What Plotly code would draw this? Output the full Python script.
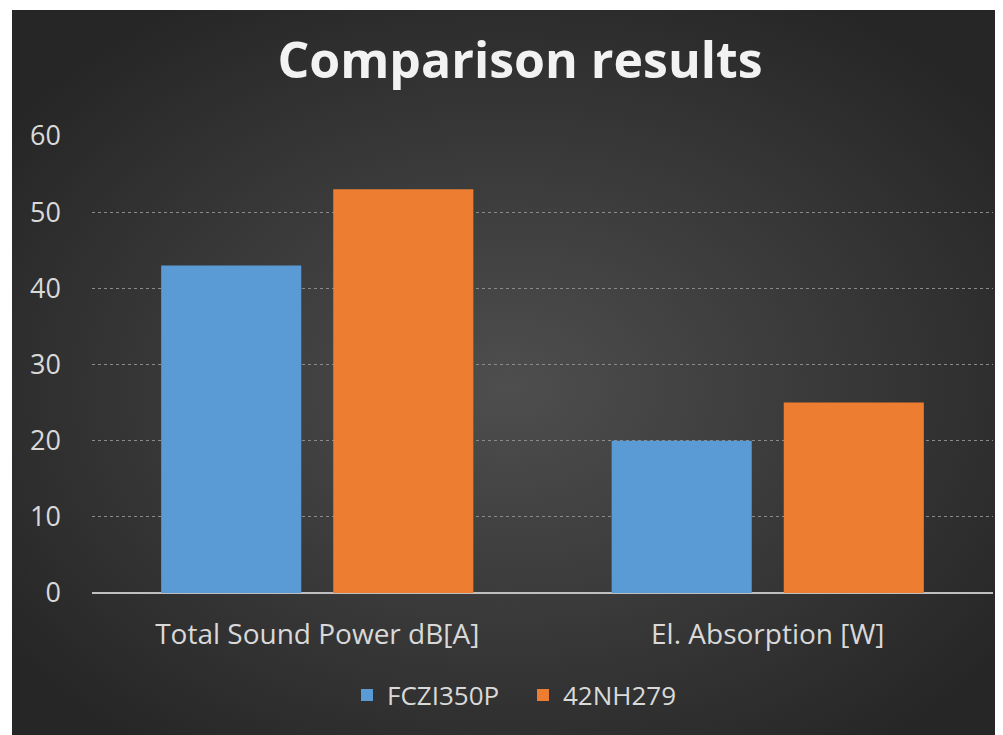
import base64
import plotly.graph_objects as go

categories = ["Total Sound Power dB[A]", "El. Absorption [W]"]
series_names = ["FCZI350P", "42NH279"]
fczi350p = [43, 20]
nh279 = [53, 25]
y_ticks = [0, 10, 20, 30, 40, 50, 60]

# page body has an 8px margin; figure coordinates = screen coordinates - 8
OFF = 8
W, H = 1003 - OFF, 735 - OFF
L, R, T, B = 92 - OFF, 10, 136 - OFF, 142
pw, ph = W - L - R, H - T - B

svg = '''<svg xmlns="http://www.w3.org/2000/svg" width="991" height="725" viewBox="0 0 991 725">
<defs><radialGradient id="g" cx="50%" cy="52%" r="62%">
<stop offset="0%" stop-color="#4e4e4e"/><stop offset="100%" stop-color="#262626"/></radialGradient></defs>
<rect width="991" height="725" fill="url(#g)"/></svg>'''
src = "data:image/svg+xml;base64," + base64.b64encode(svg.encode()).decode()

def px_to_paper_x(px):
    return (px - OFF - L) / pw

def py_to_paper_y(py):
    return (H - B - (py - OFF)) / ph

fig = go.Figure()
fig.add_trace(go.Bar(x=categories, y=fczi350p, name=series_names[0],
                     marker=dict(color="#5a9bd5", line=dict(width=0))))
fig.add_trace(go.Bar(x=categories, y=nh279, name=series_names[1],
                     marker=dict(color="#ed7d31", line=dict(width=0))))

fig.update_layout(
    width=W, height=H,
    margin=dict(l=L, r=R, t=T, b=B, autoexpand=False),
    paper_bgcolor="white",
    plot_bgcolor="rgba(0,0,0,0)",
    barmode="group", bargap=0.236, bargroupgap=0.186,
    font=dict(family="Open Sans", color="#d9d9d9"),
    title=dict(text="<b>Comparison results</b>", x=(520 - OFF) / W, xanchor="center",
               y=1 - (60 - OFF) / H, yanchor="middle",
               font=dict(family="Open Sans", size=50, color="#f2f2f2")),
    showlegend=True,
    legend=dict(orientation="h", x=px_to_paper_x(523), xanchor="center",
                y=py_to_paper_y(695), yanchor="middle",
                font=dict(size=26, color="#d9d9d9"), bgcolor="rgba(0,0,0,0)",
                entrywidth=131, entrywidthmode="pixels",
                traceorder="normal"),
    images=[dict(source=src, xref="paper", yref="paper",
                 x=px_to_paper_x(12), y=py_to_paper_y(10),
                 sizex=px_to_paper_x(1003) - px_to_paper_x(12),
                 sizey=py_to_paper_y(10) - py_to_paper_y(735),
                 sizing="stretch", layer="below", xanchor="left", yanchor="top")],
)
fig.update_yaxes(range=[0, 60], tickvals=y_ticks, showgrid=True,
                 gridcolor="#8a8a8a", griddash="dot", gridwidth=1,
                 zeroline=True, zerolinecolor="#bfbfbf", zerolinewidth=2,
                 showline=False, ticks="", ticklabelstandoff=30,
                 tickfont=dict(size=27, color="#d9d9d9"))
fig.update_xaxes(showgrid=False, showline=False, ticks="", ticklabelstandoff=22,
                 tickfont=dict(size=28, color="#d9d9d9"))

fig.write_html("out.html")
